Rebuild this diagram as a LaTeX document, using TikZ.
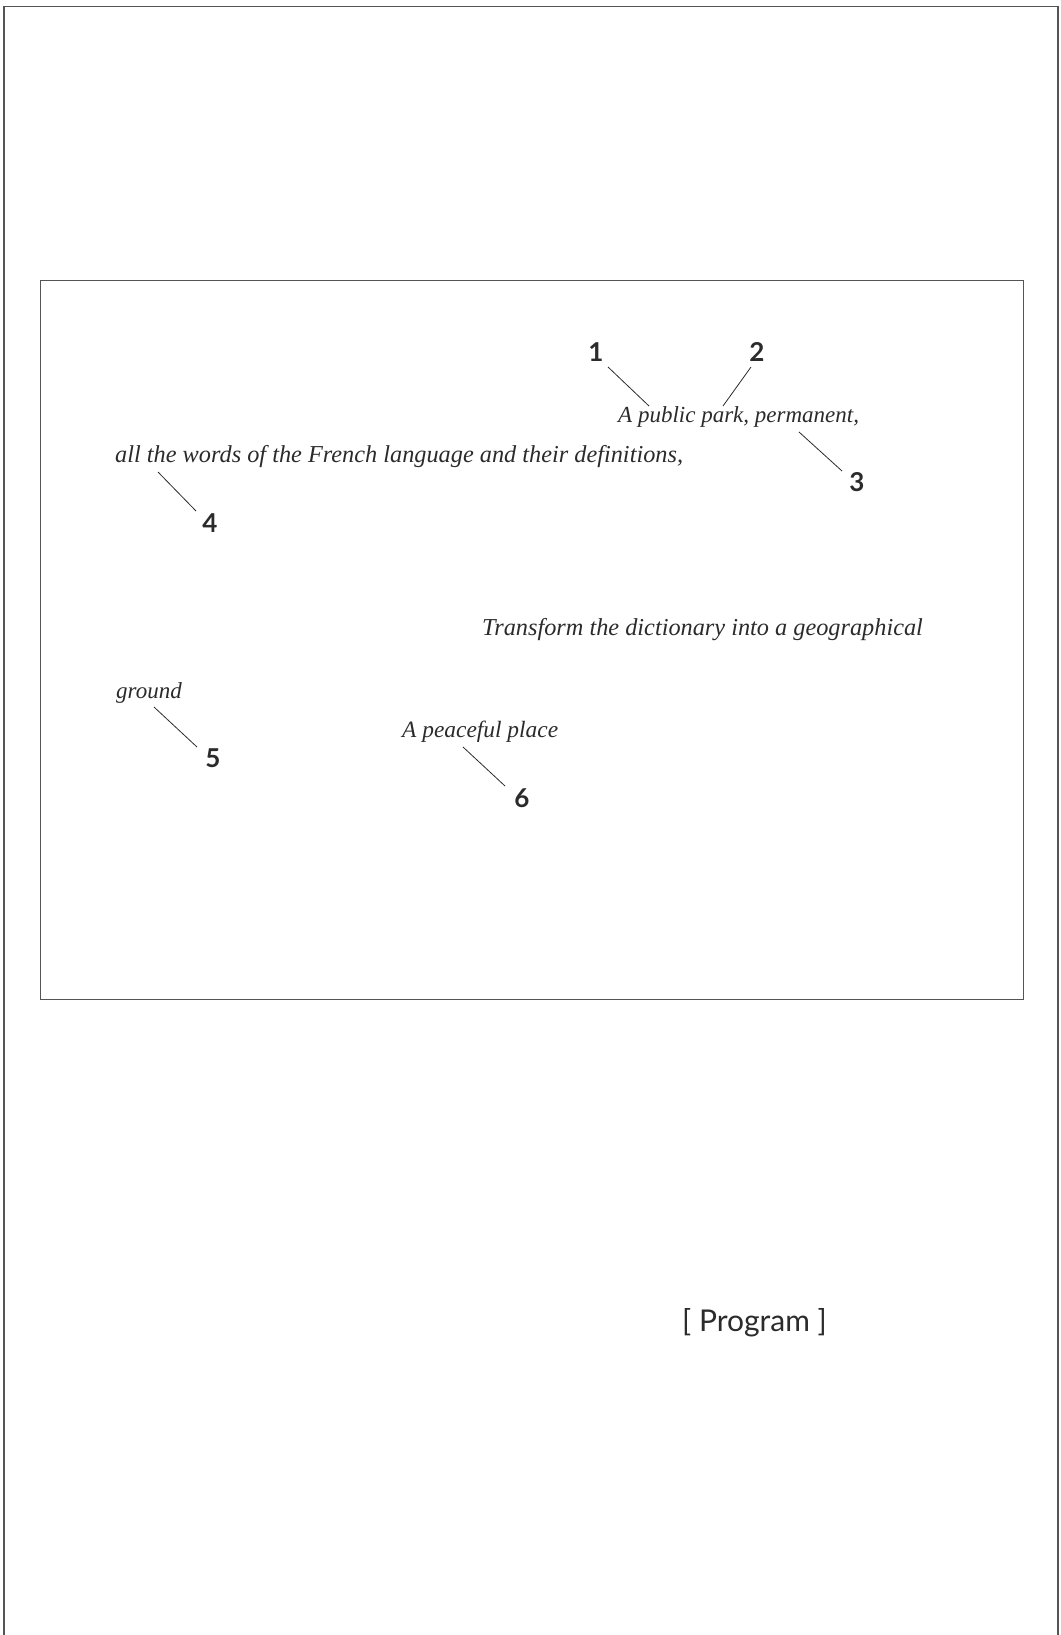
\documentclass[tikz,border=0pt]{standalone}
\usepackage{fontspec}
\setmainfont{Liberation Serif}
\newfontfamily\numfont{Lato}
\definecolor{ink}{HTML}{2B2B2B}
\definecolor{frame}{HTML}{555555}
\begin{document}
\begin{tikzpicture}[x=1pt,y=-1pt,
  quote/.style={anchor=west,inner sep=0pt,text=ink,font=\fontsize{#1}{26}\selectfont\itshape},
  quote/.default=23,
  num/.style={inner sep=0pt,text=ink,font=\fontsize{26}{28}\selectfont\numfont\bfseries},
  leader/.style={draw=ink,line width=0.8pt}]
\useasboundingbox (0,0) rectangle (1060,1635);
% outer frame (open at bottom)
\draw[frame,line width=1.6pt] (4,1635) -- (4,6.5) -- (1058,6.5) -- (1058,1635);
% inner box
\node[draw=frame,line width=1.3pt,minimum width=983pt,minimum height=719pt,inner sep=0pt,anchor=north west] (box) at (40,280) {};
% texts
\node[quote] (t1) at (618,417) {A public park, permanent,};
\node[quote=24.3] (t4) at (115,457) {all the words of the French language and their definitions,};
\node[quote=24.3] (t7) at (482,630) {Transform the dictionary into a geographical};
\node[quote] (t5) at (116,693) {ground};
\node[quote=23.4] (t6) at (402,732) {A peaceful place};
% numbers
\node[num] (n1) at (596,352) {1};
\node[num] (n2) at (757,352) {2};
\node[num] (n3) at (857,482) {3};
\node[num] (n4) at (210,523) {4};
\node[num] (n5) at (213,758) {5};
\node[num] (n6) at (522,798) {6};
% leader ends
\coordinate (a1) at (608,367); \coordinate (b1) at (649,406);
\coordinate (a2) at (751,367); \coordinate (b2) at (723,406);
\coordinate (a3) at (799,432); \coordinate (b3) at (842,471);
\coordinate (a4) at (158,472); \coordinate (b4) at (196,511);
\coordinate (a5) at (154,707); \coordinate (b5) at (197,747);
\coordinate (a6) at (463,747); \coordinate (b6) at (505,786);
\draw[leader] (a1) -- (b1);
\draw[leader] (a2) -- (b2);
\draw[leader] (a3) -- (b3);
\draw[leader] (a4) -- (b4);
\draw[leader] (a5) -- (b5);
\draw[leader] (a6) -- (b6);
% program label
\node[inner sep=0pt,text=ink,font=\fontsize{30}{32}\selectfont\numfont,anchor=west] (prog) at (682,1323) {[ Program ]};
\end{tikzpicture}
\end{document}
